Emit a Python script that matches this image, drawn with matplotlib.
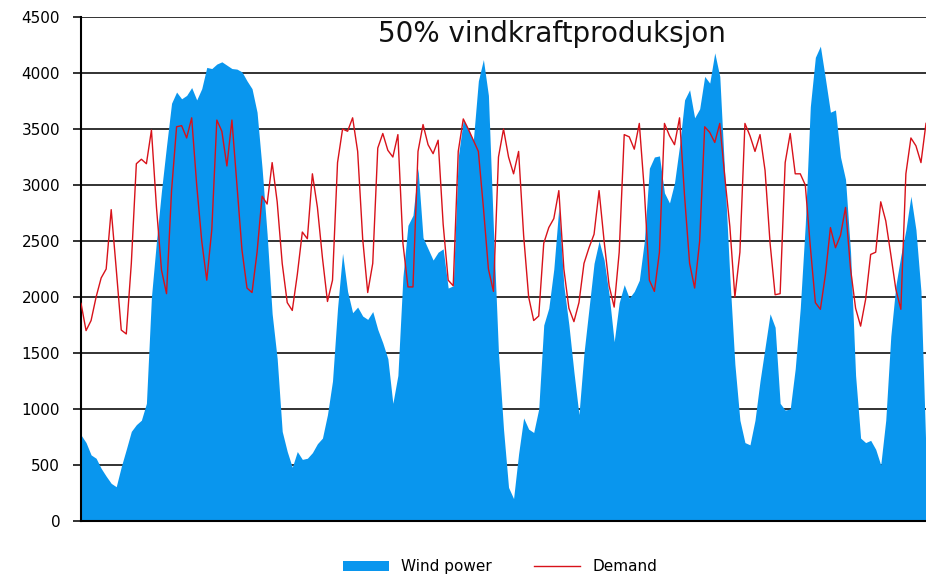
import numpy as np
import matplotlib.pyplot as plt

# hourly series sampled every 3 hours, 3 weeks
wind = [768, 700, 590, 560, 470, 400, 336, 306, 485, 640,
        800, 860, 900, 1050, 2000, 2500, 2950, 3350, 3730, 3830,
        3770, 3800, 3870, 3760, 3860, 4050, 4040, 4080, 4100, 4070,
        4040, 4035, 4010, 3930, 3860, 3650, 3150, 2560, 1850, 1450,
        800, 620, 480, 620, 550, 560, 610, 690, 740, 950,
        1250, 1900, 2390, 2050, 1860, 1910, 1830, 1800, 1870, 1710,
        1590, 1450, 1050, 1300, 2180, 2640, 2730, 3150, 2530, 2430,
        2330, 2400, 2430, 2080, 2100, 3250, 3580, 3500, 3400, 3930,
        4120, 3800, 2600, 1500, 820, 300, 200, 600, 920, 820,
        790, 1000, 1750, 1900, 2250, 2800, 2100, 1750, 1330, 950,
        1500, 1900, 2300, 2500, 2330, 2020, 1600, 1950, 2110, 1990,
        2050, 2150, 2500, 3150, 3250, 3260, 2930, 2840, 3020, 3350,
        3760, 3850, 3600, 3680, 3970, 3910, 4180, 3970, 3080, 2180,
        1400, 900, 700, 680, 900, 1250, 1550, 1850, 1730, 1050,
        990, 1000, 1360, 1900, 2650, 3700, 4140, 4240, 3950, 3650,
        3670, 3250, 3050, 2400, 1300, 740, 700, 720, 640, 500,
        900, 1650, 2100, 2370, 2600, 2900, 2600, 2050, 600]

demand = [1943, 1700, 1790, 2000, 2170, 2250, 2780, 2250, 1705, 1670,
          2300, 3190, 3230, 3190, 3490, 2800, 2240, 2030, 2950, 3520,
          3530, 3420, 3600, 3000, 2500, 2150, 2600, 3580, 3480, 3170,
          3580, 3000, 2420, 2080, 2040, 2400, 2900, 2830, 3200, 2850,
          2300, 1950, 1880, 2200, 2580, 2520, 3100, 2800, 2350, 1960,
          2150, 3200, 3500, 3480, 3600, 3300, 2520, 2040, 2300, 3330,
          3460, 3310, 3250, 3450, 2480, 2090, 2090, 3300, 3540, 3360,
          3280, 3400, 2650, 2150, 2100, 3300, 3590, 3500, 3400, 3300,
          2800, 2250, 2050, 3250, 3500, 3250, 3100, 3300, 2550, 2000,
          1790, 1830, 2480, 2620, 2700, 2950, 2250, 1900, 1780, 1950,
          2300, 2440, 2560, 2950, 2500, 2100, 1910, 2400, 3450, 3430,
          3320, 3550, 2950, 2150, 2050, 2400, 3550, 3440, 3360, 3600,
          2900, 2300, 2080, 2500, 3520, 3470, 3380, 3550, 3070, 2630,
          2000, 2400, 3550, 3440, 3300, 3450, 3130, 2480, 2020, 2030,
          3200, 3460, 3100, 3100, 3000, 2450, 1950, 1890, 2200, 2620,
          2440, 2550, 2800, 2250, 1900, 1740, 1980, 2380, 2400, 2850,
          2680, 2380, 2070, 1890, 3100, 3420, 3350, 3200, 3550]

hours = np.arange(len(wind)) * 3
yticks = np.arange(0, 4501, 500)

fig = plt.figure(figsize=(9.26, 5.81), dpi=100)
ax = fig.add_axes([0.0875, 0.1033, 0.9125, 0.8674])

ax.fill_between(hours, wind, 0, color='#0996EE', lw=0, zorder=2, label='Wind power')
ax.plot(hours, demand, color='#D8121A', lw=1.0, zorder=3, label='Demand')

ax.set_xlim(hours[0], hours[-1])
ax.set_ylim(0, 4500)
ax.set_yticks(yticks)
ax.set_xticks([])
ax.yaxis.grid(True, color='#222222', lw=1.3, zorder=0)
ax.set_axisbelow(True)
ax.tick_params(axis='y', length=6, width=1.3, color='#222222', labelsize=11, pad=9)

for s in ['top', 'right']:
    ax.spines[s].set_visible(False)
ax.spines['left'].set_linewidth(1.5)
ax.spines['bottom'].set_linewidth(1.5)

ax.text(0.557, 0.966, '50% vindkraftproduksjon', transform=ax.transAxes,
        ha='center', va='center', fontsize=20, color='#111111')

fig.legend(loc='lower center', bbox_to_anchor=(0.54, -0.012), ncol=2, frameon=False,
           fontsize=11, handlelength=3.0, columnspacing=2.8)

fig.savefig('out.png', dpi=100)
